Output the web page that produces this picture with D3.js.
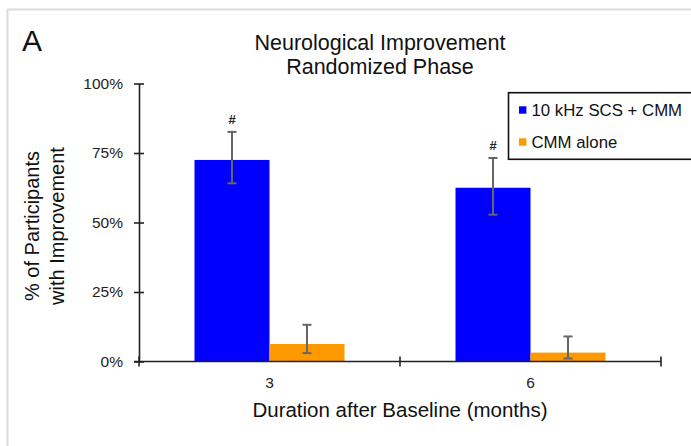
<!DOCTYPE html>
<html>
<head>
<meta charset="utf-8">
<script src="https://cdn.jsdelivr.net/npm/d3@7"></script>
<style>
  html, body { margin: 0; padding: 0; background: #fff; }
  svg { display: block; font-family: "Liberation Sans", Arial, sans-serif; }
</style>
</head>
<body>
<svg id="chart" width="691" height="446"></svg>
<script>
// Months after baseline
const categories = ["3", "6"];
const seriesNames = ["10 kHz SCS + CMM", "CMM alone"];
const seriesColors = ["#0000ff", "#ff9900"];
// Percent of participants with neurological improvement
const scsValues = [72.5, 62.5];
const scsLower = [64.1, 52.8];
const scsUpper = [82.6, 73.2];
const cmmValues = [6.3, 3.2];
const cmmLower = [3.0, 1.1];
const cmmUpper = [13.2, 9.0];
// Significance markers above the SCS bars
const scsMarks = ["#", "#"];
const yTicks = [0, 25, 50, 75, 100];

const svg = d3.select("#chart");

// light panel frame
svg.append("line").attr("x1", 7).attr("x2", 691).attr("y1", 9.5).attr("y2", 9.5)
  .attr("stroke", "#dcdcdc").attr("stroke-width", 2);
svg.append("line").attr("x1", 7.5).attr("x2", 7.5).attr("y1", 9).attr("y2", 446)
  .attr("stroke", "#dcdcdc").attr("stroke-width", 2);

const plotLeft = 139, plotRight = 661, plotTop = 83.5, plotBottom = 361.5;

const y = d3.scaleLinear().domain([0, 100]).range([plotBottom, plotTop]);
const x0 = d3.scaleBand().domain(categories).range([plotLeft, plotRight]).padding(0);
const x1 = d3.scaleBand().domain(seriesNames).range([0, x0.bandwidth()])
  .paddingInner(0).paddingOuter(0.74);

const rows = categories.map((c, i) => ({
  cat: c,
  mark: scsMarks[i],
  bars: [
    { s: seriesNames[0], v: scsValues[i], lo: scsLower[i], hi: scsUpper[i], color: seriesColors[0] },
    { s: seriesNames[1], v: cmmValues[i], lo: cmmLower[i], hi: cmmUpper[i], color: seriesColors[1] }
  ]
}));

const groups = svg.append("g").selectAll("g").data(rows).join("g")
  .attr("transform", d => `translate(${x0(d.cat)},0)`);

groups.selectAll("rect").data(d => d.bars).join("rect")
  .attr("x", d => x1(d.s))
  .attr("width", x1.bandwidth())
  .attr("y", d => y(d.v))
  .attr("height", d => y(0) - y(d.v))
  .attr("fill", d => d.color);

// error bars
const err = groups.selectAll("g.err").data(d => d.bars).join("g").attr("class", "err")
  .attr("stroke", "#666").attr("stroke-width", 2);
const cx = d => x1(d.s) + x1.bandwidth() / 2;
err.append("line")
  .attr("x1", cx).attr("x2", cx)
  .attr("y1", d => y(d.lo)).attr("y2", d => y(d.hi));
err.append("line")
  .attr("x1", d => cx(d) - 4.5).attr("x2", d => cx(d) + 4.5)
  .attr("y1", d => y(d.hi)).attr("y2", d => y(d.hi));
err.append("line")
  .attr("x1", d => cx(d) - 4.5).attr("x2", d => cx(d) + 4.5)
  .attr("y1", d => y(d.lo)).attr("y2", d => y(d.lo));

groups.append("text")
  .attr("x", d => cx(d.bars[0]))
  .attr("y", d => y(d.bars[0].hi) - 8)
  .attr("text-anchor", "middle")
  .attr("font-size", 13)
  .attr("font-weight", "bold")
  .attr("fill", "#222")
  .text(d => d.mark);

// y axis
const yAxis = d3.axisLeft(y).tickValues(yTicks).tickFormat(d => d + "%")
  .tickSizeInner(5).tickSizeOuter(0).tickPadding(11);
const ya = svg.append("g").attr("transform", `translate(${plotLeft},0)`).call(yAxis);
ya.select(".domain").attr("stroke", "#222").attr("stroke-width", 1.6);
ya.selectAll(".tick line").attr("x1", -5).attr("x2", 5).attr("stroke", "#222").attr("stroke-width", 1.6);
ya.selectAll(".tick text").attr("font-size", 15.5).attr("fill", "#222")
  .attr("font-family", "'Liberation Sans', Arial, sans-serif");

// x axis with ticks at category boundaries
const xa = svg.append("g").attr("transform", `translate(0,${plotBottom})`);
xa.append("line").attr("x1", plotLeft - 5).attr("x2", plotRight).attr("y1", 0).attr("y2", 0)
  .attr("stroke", "#222").attr("stroke-width", 1.6);
const bounds = [plotLeft, ...categories.map(c => x0(c) + x0.bandwidth())];
xa.selectAll("line.b").data(bounds).join("line").attr("class", "b")
  .attr("x1", d => d).attr("x2", d => d).attr("y1", -5).attr("y2", 5)
  .attr("stroke", "#222").attr("stroke-width", 1.6);
xa.selectAll("text").data(categories).join("text")
  .attr("x", d => x0(d) + x0.bandwidth() / 2)
  .attr("y", 26)
  .attr("text-anchor", "middle")
  .attr("font-size", 15.5)
  .attr("fill", "#222")
  .text(d => d);

// titles
svg.append("text").attr("x", 22).attr("y", 51).attr("font-size", 30).attr("fill", "#111").text("A");
const title = svg.append("text").attr("text-anchor", "middle").attr("font-size", 21.5).attr("fill", "#111");
title.append("tspan").attr("x", 380).attr("y", 50).text("Neurological Improvement");
title.append("tspan").attr("x", 380).attr("y", 73.5).text("Randomized Phase");

svg.append("text").attr("x", 400).attr("y", 417).attr("text-anchor", "middle")
  .attr("font-size", 20.5).attr("fill", "#111").text("Duration after Baseline (months)");

const yt = svg.append("text").attr("transform", "translate(0,226) rotate(-90)")
  .attr("text-anchor", "middle").attr("font-size", 20).attr("fill", "#111");
yt.append("tspan").attr("x", 0).attr("y", 38.5).text("% of Participants");
yt.append("tspan").attr("x", 0).attr("y", 63.5).text("with Improvement");

// legend
const lg = svg.append("g");
lg.append("rect").attr("x", 508.5).attr("y", 92.7).attr("width", 200).attr("height", 66.6)
  .attr("fill", "#fff").attr("stroke", "#111").attr("stroke-width", 1.6);
const items = lg.selectAll("g.item").data(seriesNames).join("g").attr("class", "item")
  .attr("transform", (d, i) => `translate(519,${110 + i * 32})`);
items.append("rect").attr("x", 0).attr("y", -3.7).attr("width", 7.4).attr("height", 7.4)
  .attr("fill", (d, i) => seriesColors[i]);
items.append("text").attr("x", 12.5).attr("y", 6).attr("font-size", 16.8).attr("fill", "#111")
  .text(d => d);
</script>
</body>
</html>
